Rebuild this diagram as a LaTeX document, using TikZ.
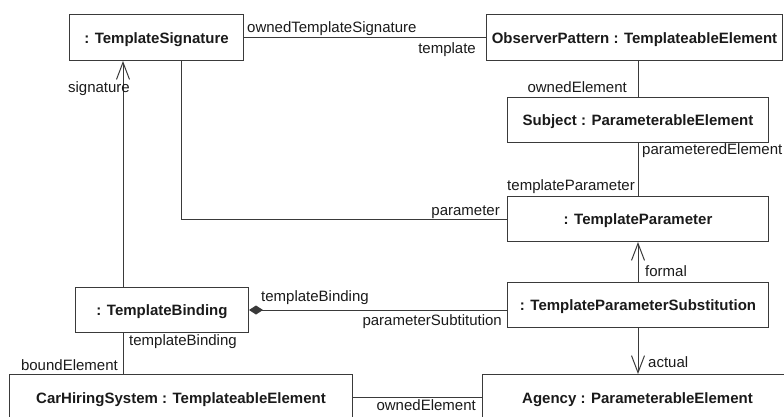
\documentclass[tikz,border=0pt]{standalone}
\usepackage{fontspec}
\setmainfont{Liberation Sans}
\usetikzlibrary{arrows.meta}
\definecolor{lnc}{HTML}{3A3A3A}
\definecolor{txc}{HTML}{1A1A1A}
\tikzset{
  obj/.style={draw=lnc, line width=1pt, rectangle, anchor=north west, inner sep=0pt,
    text height=11pt, text depth=0pt, text=txc, font=\fontsize{15}{18}\selectfont\bfseries, align=center},
  lbl/.style={inner sep=0pt, text=txc, font=\fontsize{15}{18}\selectfont},
  conn/.style={draw=lnc, line width=1pt},
  openhead/.style={-{Straight Barb[length=17pt,width=13pt,line width=1pt]}},
  diamondtail/.style={{Diamond[length=14pt,width=9pt]}-}
}
\begin{document}
\begin{tikzpicture}[x=1pt,y=-1pt]
\useasboundingbox (0,0) rectangle (784,416);
% objects
\node[obj, minimum width=174pt, minimum height=46pt] (ts) at (69,14) {: TemplateSignature};
\node[obj, minimum width=296pt, minimum height=46pt] (op) at (486,14) {ObserverPattern : TemplateableElement};
\node[obj, minimum width=261pt, minimum height=45pt] (subj) at (507,97) {Subject : ParameterableElement};
\node[obj, minimum width=261pt, minimum height=45pt] (tp) at (507,196) {: TemplateParameter};
\node[obj, minimum width=261pt, minimum height=45pt] (tps) at (507,282) {: TemplateParameterSubstitution};
\node[obj, minimum width=173pt, minimum height=45pt] (tb) at (75,287) {: TemplateBinding};
\node[obj, minimum width=343pt, minimum height=46pt] (chs) at (9,374) {CarHiringSystem : TemplateableElement};
\node[obj, minimum width=310pt, minimum height=46pt] (ag) at (482,374) {Agency : ParameterableElement};
% reference columns
\coordinate (cr) at (638,0);
\coordinate (cl) at (123,0);
\coordinate (cp) at (181,0);
% connectors
\draw[conn] (ts.east) -- (op.west);
\draw[conn] (op.south -| cr) -- (subj.north -| cr);
\draw[conn] (subj.south -| cr) -- (tp.north -| cr);
\draw[conn] (ts.south -| cp) |- (tp.west);
\draw[conn, openhead] (tb.north -| cl) -- (ts.south -| cl);
\draw[conn, diamondtail, fill=lnc] (tb.east) -- (tps.west |- tb.east);
\draw[conn, openhead] (tps.north -| cr) -- (tp.south -| cr);
\draw[conn, openhead] (tps.south -| cr) -- (ag.north -| cr);
\draw[conn] (tb.south -| cl) -- (chs.north -| cl);
\draw[conn] (chs.east) -- (ag.west);
% role labels
\node[lbl, anchor=base west] (l1) at (247,32.5) {ownedTemplateSignature};
\node[lbl, anchor=base east] (l2) at (476,53) {template};
\node[lbl, anchor=base east] (l3) at (627,92) {ownedElement};
\node[lbl, anchor=base west] (l4) at (642,154) {parameteredElement};
\node[lbl, anchor=base east] (l5) at (635,190) {templateParameter};
\node[lbl, anchor=base east] (l6) at (500,215) {parameter};
\node[lbl, anchor=base east] (l7) at (130,92) {signature};
\node[lbl, anchor=base west] (l8) at (645,276) {formal};
\node[lbl, anchor=base west] (l9) at (261,301.5) {templateBinding};
\node[lbl, anchor=base east] (l10) at (502,325) {parameterSubtitution};
\node[lbl, anchor=base west] (l11) at (129,345) {templateBinding};
\node[lbl, anchor=base east] (l12) at (118,370) {boundElement};
\node[lbl, anchor=base west] (l13) at (648,367) {actual};
\node[lbl, anchor=base east] (l14) at (476,410) {ownedElement};
\end{tikzpicture}
\end{document}
